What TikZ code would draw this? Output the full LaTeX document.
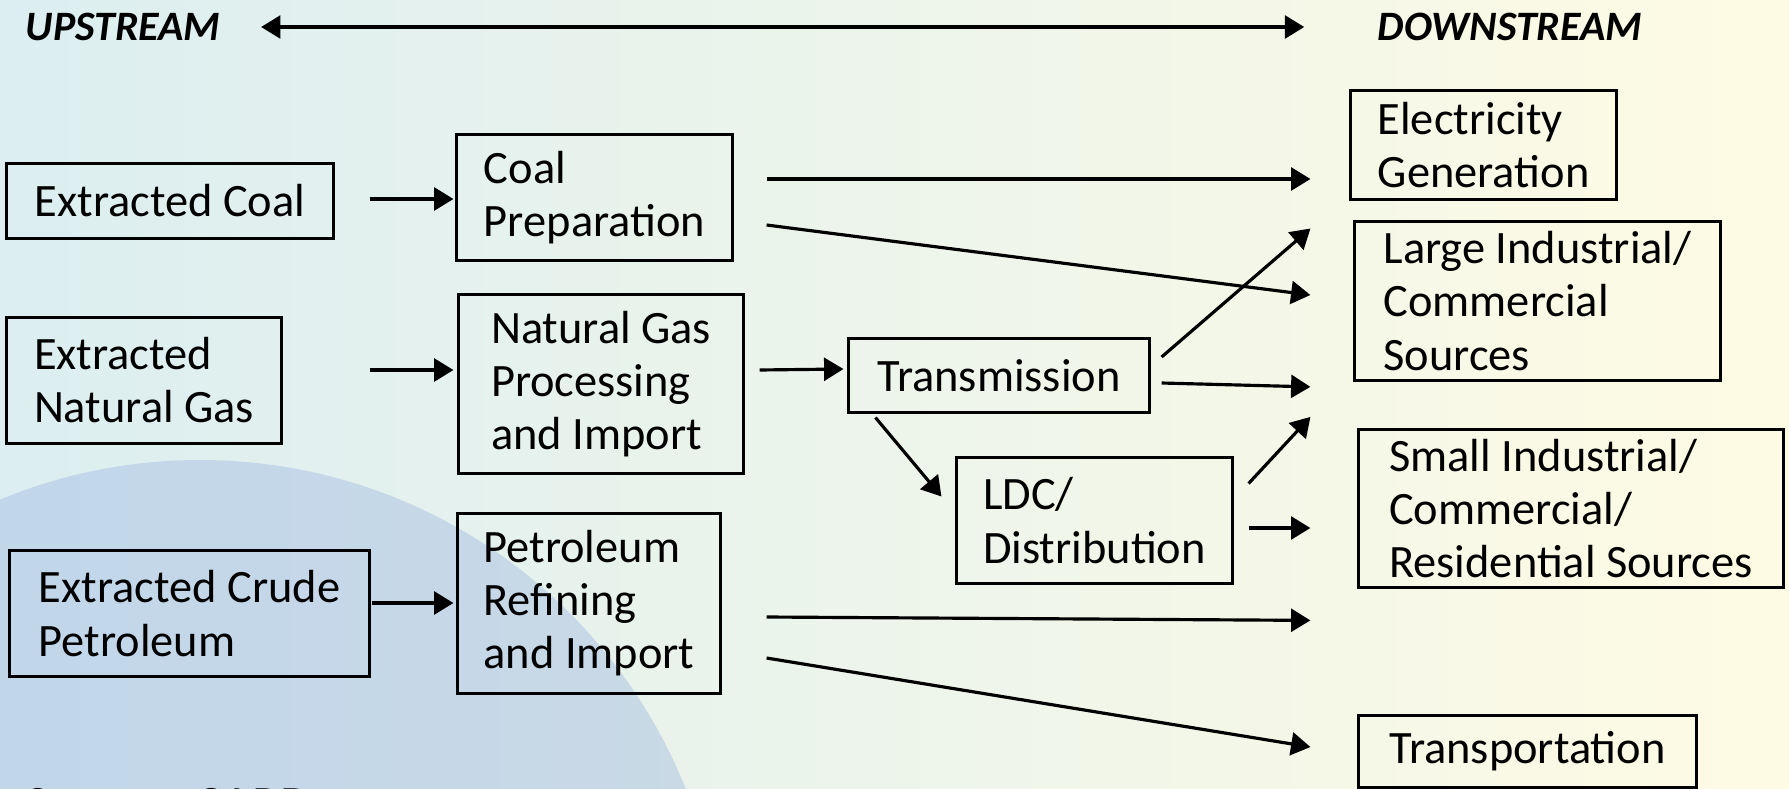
\documentclass[tikz,border=0pt]{standalone}
\usepackage{fontspec}
\setmainfont{Carlito}
\usetikzlibrary{arrows.meta}
\definecolor{bgleft}{RGB}{220,238,241}
\definecolor{bgmid}{RGB}{232,244,234}
\definecolor{bgright}{RGB}{254,251,228}
\definecolor{globeblue}{RGB}{150,176,222}

\begin{document}
\begin{tikzpicture}[x=0.01cm,y=-0.01cm]
% box, arrow and heading styles
\tikzstyle{stage}=[draw=black, line width=0.85pt, align=left, inner sep=0.1cm, font=\fontsize{13.2}{15.1}\selectfont]
\tikzstyle{flow}=[-{Triangle[length=5.5pt,width=6.5pt]}, line width=0.9pt]
\tikzstyle{heading}=[inner sep=0pt, font=\fontsize{11.9}{14}\selectfont\bfseries\itshape]

% background
\useasboundingbox (0,0) rectangle (1789,788);
\clip (0,0) rectangle (1789,788);
\shade[left color=bgleft, middle color=bgmid, right color=bgright] (0,0) rectangle (1789,788);
\fill[globeblue, opacity=0.38] (200,983) circle (523);

% headings
\node[heading, anchor=west] (up) at (25,27) {UPSTREAM};
\node[heading, anchor=east] (down) at (1643,27) {DOWNSTREAM};
\draw[flow, {Triangle[length=5.5pt,width=6.5pt]}-{Triangle[length=5.5pt,width=6.5pt]}] ([shift={(40,0)}]up.east) -- ([shift={(-73,0)}]down.west);

% sources
\node[stage, minimum width=3.26cm, minimum height=0.74cm] (excoal) at (170,201) {Extracted Coal};
\node[stage, minimum width=2.74cm, minimum height=1.25cm] (exgas) at (144,380.5) {Extracted\\Natural Gas};
\node[stage, minimum width=3.59cm, minimum height=1.25cm] (excrude) at (189.5,613.5) {Extracted Crude\\Petroleum};

% processing
\node[stage, minimum width=2.75cm, minimum height=1.25cm] (coalprep) at (594.5,197.5) {Coal\\Preparation};
\node[stage, minimum width=2.84cm, minimum height=1.78cm] (gasproc) at (601,384) {Natural Gas\\Processing\\and Import};
\node[stage, minimum width=2.62cm, minimum height=1.79cm] (petref) at (589,603.5) {Petroleum\\Refining\\and Import};
\node[stage, minimum width=3.00cm, minimum height=0.73cm] (trans) at (999,375.5) {Transmission};
\node[stage, minimum width=2.75cm, minimum height=1.25cm] (ldc) at (1094.5,520.5) {LDC/\\Distribution};

% end uses
\node[stage, minimum width=2.65cm, minimum height=1.08cm] (elec) at (1483.5,145) {Electricity\\Generation};
\node[stage, minimum width=3.65cm, minimum height=1.54cm] (large) at (1537.5,301) {Large Industrial/\\Commercial\\Sources};
\node[stage, minimum width=4.24cm, minimum height=1.55cm] (small) at (1571,508.5) {Small Industrial/\\Commercial/\\Residential Sources};
\node[stage, minimum width=3.37cm, minimum height=0.71cm] (transport) at (1527.5,751.5) {Transportation};

% source note, cut by the lower edge
\node[anchor=base west, inner sep=0pt, font=\fontsize{14.5}{17}\selectfont] (note) at (25,821) {Source: CARB};

% arrows
\draw[flow] ([shift={(35,-2)}]excoal.east) -- ([shift={(-2,1.5)}]coalprep.west);
\draw[flow] ([shift={(87,-10.5)}]exgas.east) -- ([shift={(-4,-14)}]gasproc.west);
\draw[flow] ([shift={(1,-10.5)}]excrude.east) -- ([shift={(-3,-0.5)}]petref.west);
\draw[flow] ([shift={(33,-18.5)}]coalprep.east) -- ([shift={(-39,34)}]elec.west);
\draw[flow] ([shift={(33,27.5)}]coalprep.east) -- ([shift={(-43,-6)}]large.west);
\draw[flow] ([shift={(15,-14)}]gasproc.east) -- ([shift={(-4,-6.5)}]trans.west);
\draw[flow] ([shift={(11,-18.5)}]trans.east) -- ([shift={(-39,28)}]elec.south west);
\draw[flow] ([shift={(11,7.5)}]trans.east) -- ([shift={(-43,5)}]large.south west);
\draw[flow] ([shift={(28,4)}]trans.south west) -- ([shift={(-14,40)}]ldc.north west);
\draw[flow] ([shift={(15,27)}]ldc.north east) -- ([shift={(-43,35)}]large.south west);
\draw[flow] ([shift={(15,7.5)}]ldc.east) -- ([shift={(-47,19.5)}]small.west);
\draw[flow] ([shift={(45,13.5)}]petref.east) -- ([shift={(-47,31)}]small.south west);
\draw[flow] ([shift={(45,54.5)}]petref.east) -- ([shift={(-47,-4.5)}]transport.west);
\end{tikzpicture}
\end{document}
